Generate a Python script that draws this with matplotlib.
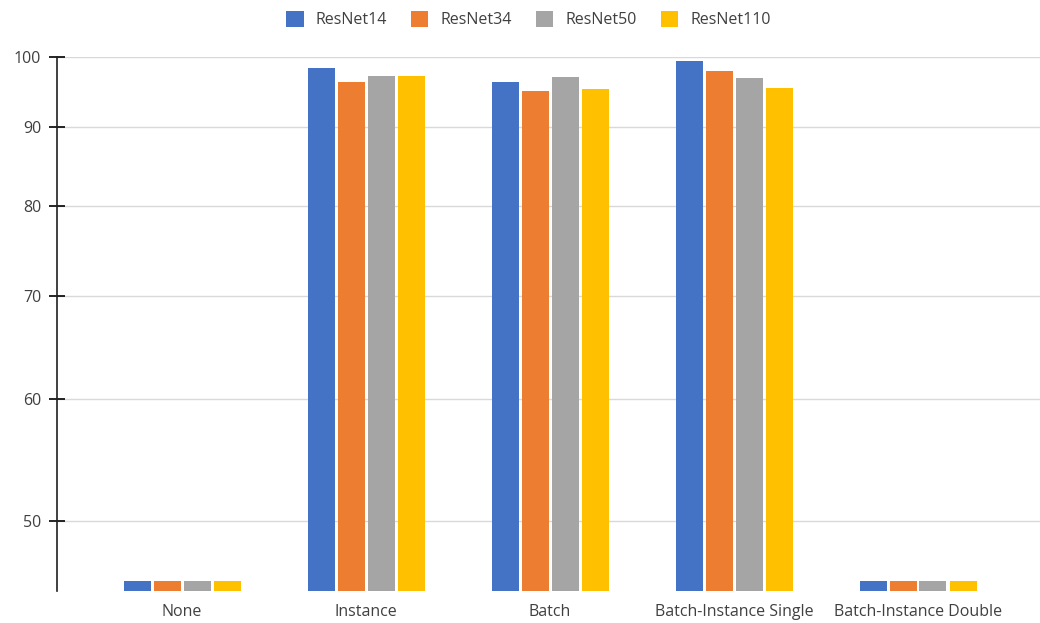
import matplotlib.pyplot as plt
import numpy as np
from matplotlib.ticker import FixedLocator, FixedFormatter, NullLocator

# 数据
categories = ['None', 'Instance', 'Batch', 'Batch-Instance Single', 'Batch-Instance Double']
series_names = ['ResNet14', 'ResNet34', 'ResNet50', 'ResNet110']
resnet14 = [45.7, 98.4, 96.3, 99.4, 45.7]
resnet34 = [45.7, 96.3, 95.1, 97.9, 45.7]
resnet50 = [45.7, 97.2, 97.0, 96.9, 45.7]
resnet110 = [45.7, 97.2, 95.3, 95.5, 45.7]
yticks = [50, 60, 70, 80, 90, 100]

colors = ['#4472C4', '#ED7D31', '#A5A5A5', '#FFC000']
plt.rcParams['font.family'] = ['Open Sans', 'DejaVu Sans']

fig = plt.figure(figsize=(10.4, 6.23), dpi=100)
ax = fig.add_axes([57 / 1040, 1 - 591 / 623, 1 - 57 / 1040, (591 - 57) / 623])

x = np.arange(len(categories))
step = 30 / 184
width = 27 / 184
all_series = [resnet14, resnet34, resnet50, resnet110]
for i, vals in enumerate(all_series):
    ax.bar(x + (i - 1.5) * step, vals, width, color=colors[i], label=series_names[i],
           bottom=0, zorder=3)

ax.set_yscale('log')
ax.set_ylim(45, 100)
ax.set_xlim((57 - 182) / 184, (1040 - 182) / 184)
ax.yaxis.set_major_locator(FixedLocator(yticks))
ax.yaxis.set_major_formatter(FixedFormatter([str(t) for t in yticks]))
ax.yaxis.set_minor_locator(NullLocator())
ax.grid(axis='y', color='#D9D9D9', linewidth=1, zorder=0)

ax.set_xticks(x)
ax.set_xticklabels(categories)
ax.tick_params(axis='x', length=0, labelsize=11.5, labelcolor='#404040', pad=9)
ax.tick_params(axis='y', direction='inout', length=11, width=1.2, labelsize=11.5,
               labelcolor='#404040', pad=6)

for s in ['top', 'right', 'bottom']:
    ax.spines[s].set_visible(False)
ax.spines['left'].set_linewidth(1.2)
ax.spines['left'].set_color('#202020')

fig.legend(loc='upper center', bbox_to_anchor=(0.508, 1.005), ncol=4, frameon=False,
           fontsize=11.5, handlelength=1.1, handleheight=1.1, columnspacing=1.5,
           handletextpad=0.75, labelcolor='#404040')

plt.savefig('out.png', dpi=100)
